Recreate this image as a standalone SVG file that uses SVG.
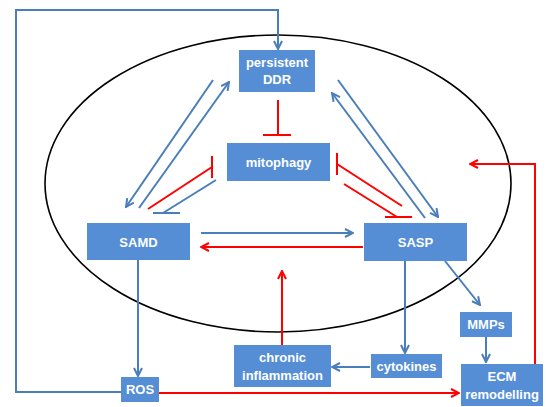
<svg xmlns="http://www.w3.org/2000/svg" width="546" height="407" viewBox="0 0 546 407">
<style>
.box{fill:#558ED5;}
.t{font-family:"Liberation Sans",Arial,sans-serif;font-weight:bold;font-size:13px;fill:#ffffff;text-anchor:middle;}
.b{stroke:#4A7EBB;stroke-width:2;fill:none;}
.r{stroke:#FF0000;stroke-width:2;fill:none;}
.ba{marker-end:url(#ab);}
.ra{marker-end:url(#ar);}
</style>
<defs>
<marker id="ab" viewBox="0 0 10 10" refX="9" refY="5" markerWidth="10" markerHeight="10" markerUnits="userSpaceOnUse" orient="auto">
<path d="M1,1 L9,5 L1,9" fill="none" stroke="#4A7EBB" stroke-width="2"/>
</marker>
<marker id="ar" viewBox="0 0 10 10" refX="9" refY="5" markerWidth="10" markerHeight="10" markerUnits="userSpaceOnUse" orient="auto">
<path d="M1,1 L9,5 L1,9" fill="none" stroke="#FF0000" stroke-width="2"/>
</marker>
</defs>
<rect width="546" height="407" fill="#ffffff"/>
<ellipse id="cell" cx="278" cy="183.5" rx="233" ry="148.5" fill="none" stroke="#000000" stroke-width="1.6"/>
<g id="connectors">
<polyline class="b ba" points="121,392 16,392 16,10 278,10 278,49"/>
<line class="b ba" x1="213" y1="80" x2="126" y2="207"/>
<line class="b ba" x1="139" y1="208" x2="229" y2="82"/>
<line class="b ba" x1="338" y1="80" x2="438" y2="217"/>
<line class="b ba" x1="425" y1="218" x2="332" y2="93"/>
<line class="r" x1="278" y1="100" x2="278" y2="135"/>
<line class="r" x1="263" y1="135" x2="291" y2="135"/>
<line class="r" x1="148" y1="209" x2="212" y2="167"/>
<line class="r" x1="212" y1="156" x2="212" y2="178"/>
<line class="b" x1="216" y1="180" x2="163" y2="213"/>
<line class="b" x1="153" y1="213" x2="180" y2="213"/>
<line class="r" x1="402" y1="206" x2="337" y2="164"/>
<line class="r" x1="337" y1="153" x2="337" y2="175"/>
<line class="r" x1="344" y1="184" x2="397" y2="217"/>
<line class="r" x1="385" y1="217" x2="412" y2="217"/>
<line class="b ba" x1="201" y1="233" x2="353" y2="233"/>
<line class="r ra" x1="363" y1="247" x2="201" y2="247"/>
<line class="b ba" x1="138" y1="260" x2="138" y2="376"/>
<line class="r ra" x1="159" y1="393" x2="459" y2="393"/>
<line class="r ra" x1="282" y1="345" x2="282" y2="271"/>
<line class="b ba" x1="405" y1="261" x2="405" y2="353"/>
<line class="b ba" x1="370" y1="367" x2="332" y2="367"/>
<line class="b ba" x1="445" y1="261" x2="480" y2="305"/>
<line class="b ba" x1="486" y1="337" x2="486" y2="362"/>
<polyline class="r ra" points="535,364 535,164 470,164"/>
</g>
<g id="ddr"><rect class="box" x="239" y="50" width="76" height="42"/><text class="t" x="277" y="67">persistent</text><text class="t" x="277" y="84">DDR</text></g>
<g id="mitophagy"><rect class="box" x="227" y="143" width="103" height="38"/><text class="t" x="278.5" y="167">mitophagy</text></g>
<g id="samd"><rect class="box" x="87" y="223" width="103" height="37"/><text class="t" x="138.5" y="246.5">SAMD</text></g>
<g id="sasp"><rect class="box" x="364" y="223" width="103" height="38"/><text class="t" x="415.5" y="246.5">SASP</text></g>
<g id="ros"><rect class="box" x="121" y="377" width="38" height="25"/><text class="t" x="140" y="394">ROS</text></g>
<g id="chronic"><rect class="box" x="234" y="345" width="97" height="42"/><text class="t" x="282.5" y="362">chronic</text><text class="t" x="282.5" y="380">inflammation</text></g>
<g id="cytokines"><rect class="box" x="371" y="354" width="71" height="24"/><text class="t" x="406.5" y="370.5">cytokines</text></g>
<g id="mmps"><rect class="box" x="460" y="312" width="52" height="25"/><text class="t" x="486" y="329">MMPs</text></g>
<g id="ecm"><rect class="box" x="461" y="364" width="82" height="42"/><text class="t" x="502" y="381">ECM</text><text class="t" x="502" y="399">remodelling</text></g>
</svg>
